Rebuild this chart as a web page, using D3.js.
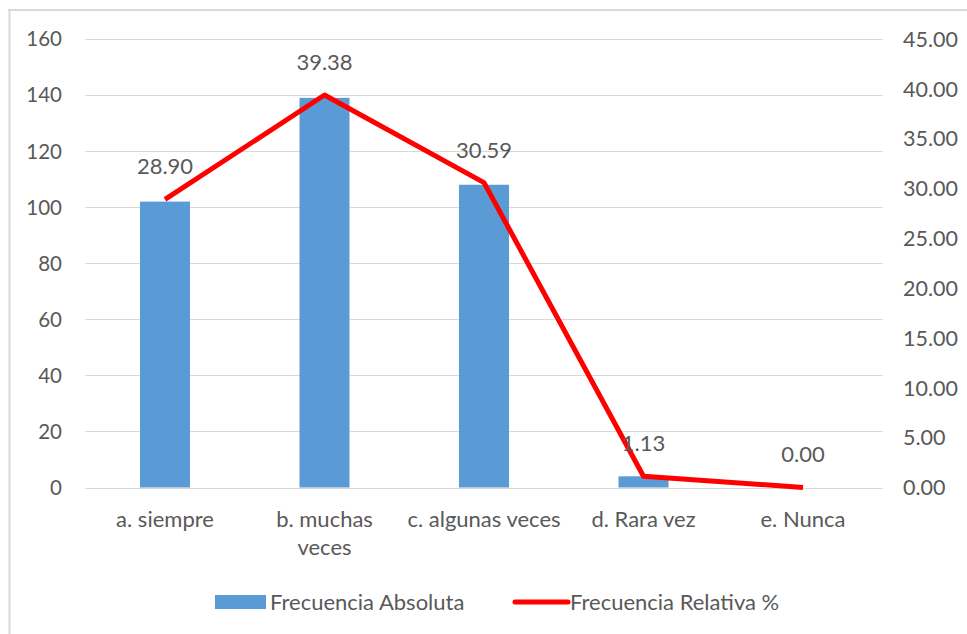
<!DOCTYPE html>
<html><head><meta charset="utf-8">
<script src="https://cdn.jsdelivr.net/npm/d3@7/dist/d3.min.js"></script>
<style>body{margin:0;background:#fff}svg{display:block}text{font-family:Lato,"Open Sans",sans-serif;fill:#595959}</style>
</head><body><svg id="c" width="967" height="634"></svg>
<script>
const categories = [["a. siempre"],["b. muchas","veces"],["c. algunas veces"],["d. Rara vez"],["e. Nunca"]];
const absoluta = [102, 139, 108, 4, 0];
const relativa = [28.90, 39.38, 30.59, 1.13, 0.00];
const leftTicks = [0,20,40,60,80,100,120,140,160];
const rightTicks = [0,5,10,15,20,25,30,35,40,45];

const svg = d3.select("#c");
const L = 85.25, R = 882.75, T = 39, B = 487.5;
const x = d3.scaleBand().domain(d3.range(categories.length)).range([L, R]);
const yL = d3.scaleLinear().domain([0,160]).range([B, T]);
const yR = d3.scaleLinear().domain([0,45]).range([B, T]);

// border
svg.append("line").attr("x1",8).attr("x2",967).attr("y1",10).attr("y2",10).attr("stroke","#d9d9d9").attr("stroke-width",2);
svg.append("line").attr("x1",9.5).attr("x2",9.5).attr("y1",9).attr("y2",634).attr("stroke","#d9d9d9").attr("stroke-width",2);

// grid
svg.append("g").selectAll("line").data(leftTicks).join("line")
  .attr("x1",L).attr("x2",R).attr("y1",d=>Math.round(yL(d))+0.5).attr("y2",d=>Math.round(yL(d))+0.5)
  .attr("stroke","#d9d9d9").attr("stroke-width",1.2);

// left axis labels
svg.append("g").selectAll("text").data(leftTicks).join("text")
  .attr("x",62).attr("y",d=>yL(d)).attr("dy","0.36em").attr("text-anchor","end")
  .attr("font-size",20.5).text(d=>d);
// right axis labels
svg.append("g").selectAll("text").data(rightTicks).join("text")
  .attr("x",903).attr("y",d=>yR(d)).attr("dy","0.36em").attr("text-anchor","start")
  .attr("font-size",21.5).text(d=>d.toFixed(2));

// bars
const bw = 50;
svg.append("g").selectAll("rect").data(absoluta).join("rect")
  .attr("x",(d,i)=>x(i)+x.bandwidth()/2-bw/2).attr("width",bw)
  .attr("y",d=>yL(d)).attr("height",d=>B-yL(d)).attr("fill","#5b9bd5");

// line
const line = d3.line().x((d,i)=>x(i)+x.bandwidth()/2).y(d=>yR(d));
svg.append("path").datum(relativa).attr("d",line).attr("fill","none")
  .attr("stroke","#ff0000").attr("stroke-width",5).attr("stroke-linejoin","round");

// data labels
svg.append("g").selectAll("text").data(relativa).join("text")
  .attr("x",(d,i)=>x(i)+x.bandwidth()/2).attr("y",d=>yR(d)-33).attr("dy","0.36em")
  .attr("text-anchor","middle").attr("font-size",22).text(d=>d.toFixed(2));

// category labels
const cg = svg.append("g").selectAll("text").data(categories).join("text")
  .attr("x",(d,i)=>x(i)+x.bandwidth()/2).attr("y",527).attr("text-anchor","middle").attr("font-size",22);
cg.selectAll("tspan").data(d=>d).join("tspan")
  .attr("x",function(){return this.parentNode.getAttribute("x");})
  .attr("dy",(d,i)=>i?28:0).text(d=>d);

// legend
const lg = svg.append("g");
lg.append("rect").attr("x",215).attr("y",595).attr("width",51).attr("height",14).attr("fill","#5b9bd5");
lg.append("text").attr("x",270).attr("y",602).attr("dy","0.36em").attr("font-size",22).text("Frecuencia Absoluta");
lg.append("line").attr("x1",515).attr("x2",568).attr("y1",602).attr("y2",602).attr("stroke","#ff0000").attr("stroke-width",5).attr("stroke-linecap","round");
lg.append("text").attr("x",570).attr("y",602).attr("dy","0.36em").attr("font-size",22).text("Frecuencia Relativa %");
</script></body></html>
